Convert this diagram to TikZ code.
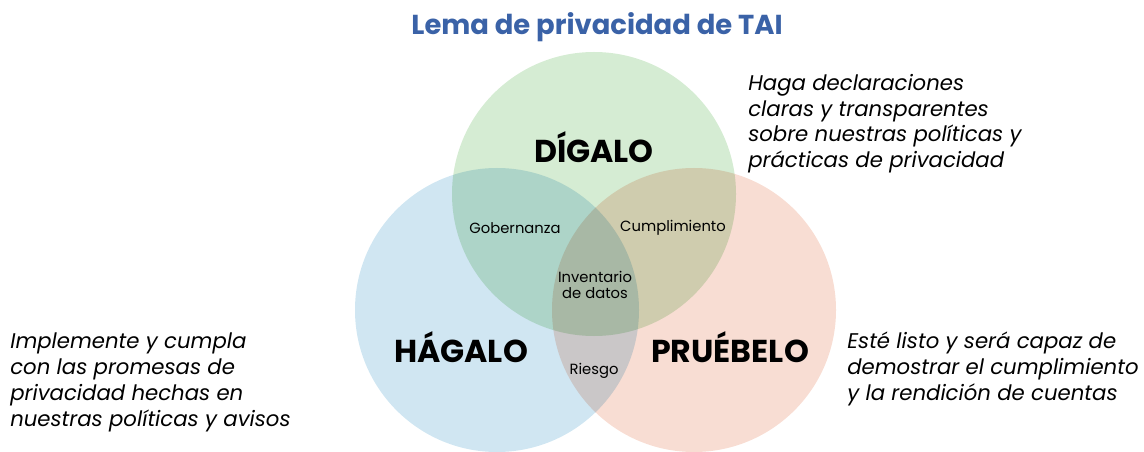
\documentclass[tikz,border=0pt]{standalone}
\usepackage{fontspec}
\setmainfont{Poppins}
\usepackage{tikz}
\definecolor{titleblue}{HTML}{3A62A7}
\definecolor{circblue}{HTML}{D0E6F2}
\definecolor{circgreen}{HTML}{D5ECD3}
\definecolor{circpink}{HTML}{F8DDD3}
\tikzset{
  big/.style={font=\bfseries\fontsize{22.5}{24}\selectfont, inner sep=0pt},
  small/.style={font=\fontsize{10.5}{11.4}\selectfont, inner sep=0pt, align=center},
  side/.style={font=\itshape\fontsize{15.1}{18.3}\selectfont, inner sep=0pt, anchor=north west, align=left}
}
\begin{document}
\begin{tikzpicture}[x=0.025cm, y=-0.025cm]
	\useasboundingbox (0,0) rectangle (1144,452);
	\begin{scope}[blend group=multiply]
		\fill[circblue] (497,310) circle (142);
		\fill[circpink] (694,310) circle (142);
		\fill[circgreen] (594,194) circle (142);
	\end{scope}
	\node[font=\bfseries\fontsize{19.5}{22}\selectfont, text=titleblue, inner sep=0pt] (title) at (597,27) {Lema de privacidad de TAI};
	\node[big] (digalo) at (594,147) {DÍGALO};
	\node[big] (hagalo) at (461,347) {HÁGALO};
	\node[big] (pruebelo) at (730,347) {PRUÉBELO};
	\node[small] (gob) at (515,228) {Gobernanza};
	\node[small] (cump) at (673,228) {Cumplimiento};
	\node[small] (inv) at (595,285) {Inventario\\de datos};
	\node[small] (riesgo) at (594,371) {Riesgo};
	\node[side] (txtdigalo) at (748,74) {Haga declaraciones\\claras y transparentes\\sobre nuestras políticas y\\prácticas de privacidad};
	\node[side] (txthagalo) at (10,333) {Implemente y cumpla\\con las promesas de\\privacidad hechas en\\nuestras políticas y avisos};
	\node[side] (txtpruebelo) at (847,332) {Esté listo y será capaz de\\demostrar el cumplimiento\\y la rendición de cuentas};
\end{tikzpicture}
\end{document}
